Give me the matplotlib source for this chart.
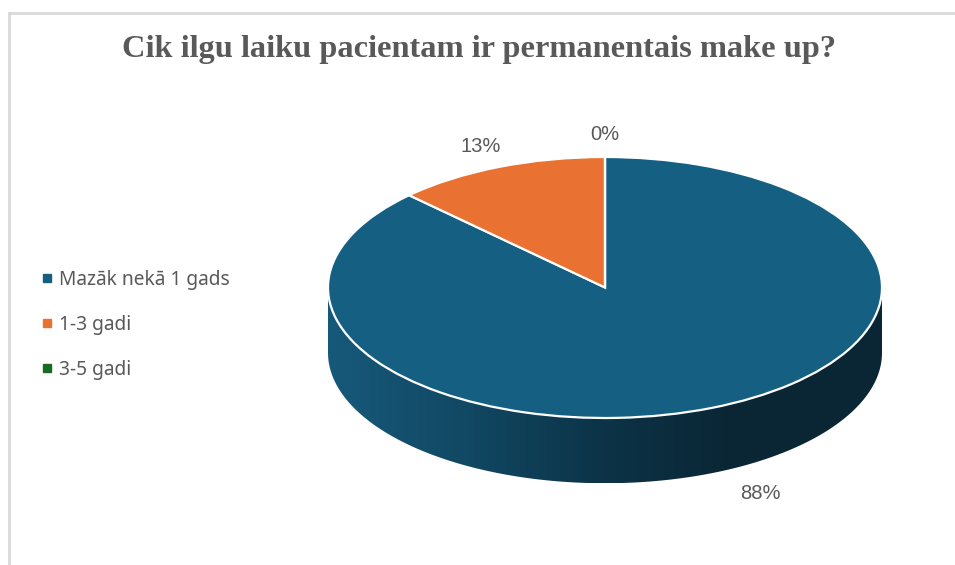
import math
import numpy as np
import matplotlib
matplotlib.use("Agg")
import matplotlib.pyplot as plt
from matplotlib.lines import Line2D
from matplotlib.path import Path
from matplotlib.patches import PathPatch
from matplotlib.colors import LinearSegmentedColormap

title = "Cik ilgu laiku pacientam ir permanentais make up?"
categories = ["Mazāk nekā 1 gads", "1-3 gadi", "3-5 gadi"]
values = [7, 1, 0]
colors = ["#156082", "#E97132", "#196B24"]

W, H = 955, 565
fig = plt.figure(figsize=(W / 100, H / 100), dpi=100)
fig.patch.set_facecolor("white")

# pie geometry (pixels)
cx, cy = 605, 287.5       # centre of top ellipse (from top)
rx, ry = 277, 130.5
depth = 0.50              # thickness in units of ry
ylo, yhi = -1.0 - depth - 0.15, 1.0
ax = fig.add_axes([(cx - rx) / W,
                   (H - cy + ylo * ry) / H,
                   2 * rx / W,
                   (yhi - ylo) * ry / H])
ax.set_axis_off()

# side of the cylinder with horizontal gradient
side_cmap = LinearSegmentedColormap.from_list(
    "side", ["#17597a", "#114863", "#0c3347", "#0a2533", "#0b2735"])
th = np.linspace(np.pi, 2 * np.pi, 200)
verts = [(-1, 0), (-1, -depth)] + list(zip(np.cos(th), np.sin(th) - depth)) + [(1, -depth), (1, 0), (-1, 0)]
codes = [Path.MOVETO] + [Path.LINETO] * (len(verts) - 2) + [Path.CLOSEPOLY]
side = PathPatch(Path(verts, codes), facecolor="none", edgecolor="none")
ax.add_patch(side)
grad = np.linspace(0, 1, 256).reshape(1, -1)
im = ax.imshow(grad, cmap=side_cmap, extent=[-1, 1, -1 - depth, 0],
               aspect="auto", interpolation="bicubic", zorder=1)
im.set_clip_path(side)

# top face
total = sum(values)
pct_labels = [f"{math.floor(v / total * 100 + 0.5)}%" for v in values]
wedges, texts = ax.pie(values, colors=colors, startangle=90, counterclock=False,
                       radius=1, center=(0, 0), labels=pct_labels, labeldistance=1.17,
                       wedgeprops=dict(edgecolor="white", linewidth=1.6, zorder=2),
                       textprops=dict(fontsize=14.5, color="#595959",
                                      family="Liberation Sans"))
for t in texts:
    x, y = t.get_position()
    t.set_ha("center")
    t.set_va("center")
    if y < 0:
        t.set_position((x * 1.25, y - depth))
ax.set_aspect("auto")
ax.set_xlim(-1, 1)
ax.set_ylim(ylo, yhi)

# title
fig.text(479 / W, 1 - 50 / H, title, ha="center", va="center",
         fontsize=23.3, fontweight="bold", family="Liberation Serif", color="#595959")

# legend
handles = [Line2D([], [], linestyle="none", marker="s", markersize=6,
                  markerfacecolor=c, markeredgecolor=c) for c in colors]
fig.legend(handles, categories, loc="center left",
           bbox_to_anchor=(21 / W, 1 - 325 / H), frameon=False,
           prop=dict(family="Noto Sans", size=13.8), labelcolor="#595959",
           labelspacing=1.3, handletextpad=0.2, handlelength=0.9)

# chart border
fig.add_artist(Line2D([9 / W, 1], [1 - 13 / H, 1 - 13 / H], color="#d9d9d9", lw=2,
                      transform=fig.transFigure))
fig.add_artist(Line2D([9 / W, 9 / W], [0, 1 - 13 / H], color="#d9d9d9", lw=2,
                      transform=fig.transFigure))

fig.savefig("out.png", dpi=100)
